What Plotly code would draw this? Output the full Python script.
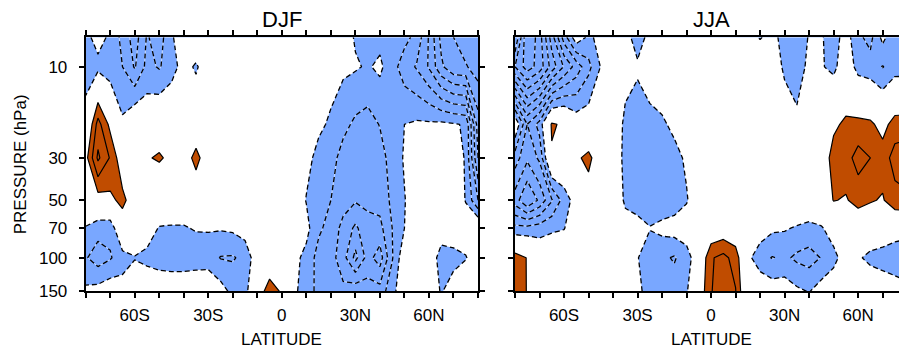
import numpy as np
import plotly.graph_objects as go

lats = list(range(-80, 81, 5))
levels = [7, 10, 20, 30, 50, 70, 100, 150]

# one row per latitude (-80 ... 80), values at 7,10,20,30,50,70,100,150 hPa
djf_values = [
    [-1.3, -1.5, -0.5, 0.6, 0.4, -1.1, -1.9, -0.8],    # -80
    [-0.6, -1.3, 2.4, 3.2, 0.5, -1.6, -2.5, -0.6],     # -75
    [-1.2, -1.6, 0.7, 1.9, 0.75, -1.7, -2.1, -0.3],    # -70
    [-2.3, -2.0, -0.8, 0.2, 1.3, 0.3, -1.4, -0.6],     # -65
    [-3.5, -3.1, 0.1, -0.2, 0.3, -0.2, -1.05, -0.3],   # -60
    [-1.9, -1.7, -0.2, 0.9, 0.0, -0.6, -1.2, -0.4],    # -55
    [-2.5, -2.1, 0.2, 1.15, -0.3, -1.05, -1.6, 0.0],   # -50
    [-1.1, -1.4, 0.1, 0.7, -0.2, -1.1, -1.7, 0.0],     # -45
    [-0.5, -0.6, 0.0, 0.3, -0.2, -1.1, -1.7, 0.0],     # -40
    [-0.1, -1.15, 0.0, 1.4, 0.0, -0.9, -1.7, 0.2],     # -35
    [-0.2, -0.3, 0.0, 0.2, -0.1, -0.9, -1.6, 0.1],     # -30
    [0.0, 0.0, 0.0, 0.0, -0.2, -0.9, -2.05, -0.55],    # -25
    [0.0, 0.0, 0.0, 0.0, -0.3, -0.8, -2.1, -1.3],      # -20
    [0.0, 0.0, 0.0, 0.0, -0.4, -0.5, -1.7, -1.4],      # -15
    [0.0, 0.0, 0.0, 0.0, 0.0, 0.0, -0.3, 0.5],         # -10
    [0.0, 0.0, 0.0, 0.0, 0.0, 0.0, 0.3, 1.4],          # -5
    [0.0, 0.0, 0.0, 0.0, 0.0, 0.0, 0.2, 0.9],          # 0
    [0.0, 0.0, 0.0, 0.0, -0.3, -0.5, -0.7, -0.8],      # 5
    [0.0, 0.0, -0.3, -0.7, -1.05, -0.7, -1.3, -1.5],   # 10
    [0.0, -0.3, -0.8, -1.3, -1.5, -1.8, -2.4, -2.3],   # 15
    [-0.2, -0.6, -1.15, -1.6, -2.0, -2.4, -2.6, -2.5], # 20
    [-0.5, -0.8, -1.7, -2.4, -2.6, -3.3, -3.6, -2.75], # 25
    [-1.1, -0.9, -2.2, -2.6, -2.9, -4.2, -5.3, -2.3],  # 30
    [-1.3, -1.1, -2.4, -2.7, -2.8, -3.3, -3.6, -2.6],  # 35
    [-1.3, -0.8, -1.95, -2.4, -2.6, -3.3, -4.5, -2.6], # 40
    [-1.4, -1.6, -1.4, -1.6, -1.8, -2.0, -2.1, -1.3],  # 45
    [-1.7, -2.5, -1.0, -0.9, -1.05, -1.0, -0.2, -0.3], # 50
    [-2.3, -3.1, -0.85, -0.4, -0.4, -0.3, 0.0, 0.0],   # 55
    [-4.1, -4.1, -0.85, -0.3, -0.3, -0.2, -0.5, -0.6], # 60
    [-6.3, -5.8, -0.8, -0.3, -0.3, -0.6, -1.3, -1.05], # 65
    [-7.0, -6.8, -0.9, -0.4, -0.3, -0.6, -1.2, -0.7],  # 70
    [-7.6, -6.9, -1.1, -1.1, -1.05, -0.5, -1.05, -0.3],# 75
    [-8.0, -7.5, -5.5, -5.0, -3.0, 0.3, -0.5, -0.3],   # 80
]

jja_values = [
    [-6.0, -8.0, 0.0, -2.5, -4.5, -1.7, 1.5, 1.6],     # -80
    [-10.0, -9.5, -3.0, -3.8, -6.0, -1.7, 0.95, 0.95], # -75
    [-8.5, -8.6, -1.6, -2.8, -4.8, -1.5, 0.0, 0.0],    # -70
    [-5.5, -6.6, 1.15, 0.85, -3.1, -1.2, 0.0, 0.0],    # -65
    [-2.5, -4.9, 0.8, 0.3, -1.56, -1.05, 0.0, 0.0],    # -60
    [-0.3, -3.6, -0.3, 0.8, -0.5, -0.3, 0.0, 0.0],     # -55
    [-1.2, -2.3, -0.3, 1.3, 0.4, 0.0, 0.0, 0.0],       # -50
    [-0.7, -0.95, 0.0, 0.2, 0.0, 0.0, 0.0, 0.0],       # -45
    [-0.2, -0.3, 0.0, 0.0, 0.0, 0.0, 0.0, 0.0],        # -40
    [-0.5, -0.5, -1.3, -1.4, -1.2, -0.5, -0.3, 0.0],   # -35
    [-1.6, -0.8, -1.7, -1.8, -1.6, -0.5, -0.95, -0.7], # -30
    [-0.6, -0.3, -1.4, -1.8, -1.7, -0.95, -1.6, -1.5], # -25
    [0.0, 0.0, -1.2, -1.6, -1.7, -0.7, -1.8, -1.5],    # -20
    [0.0, 0.0, -0.7, -1.4, -1.6, -0.5, -2.1, -1.5],    # -15
    [0.0, 0.0, 0.0, -0.8, -1.1, -0.3, -1.5, -1.1],     # -10
    [0.0, 0.0, 0.0, 0.0, -0.2, 0.0, -0.2, 0.2],        # -5
    [0.0, 0.0, 0.0, 0.0, 0.0, 0.0, 1.9, 1.95],         # 0
    [0.0, 0.0, 0.0, 0.0, 0.0, 0.2, 2.3, 2.5],          # 5
    [0.0, 0.0, 0.0, 0.0, 0.0, 0.0, 1.6, 2.05],         # 10
    [-0.5, 0.0, 0.0, 0.0, 0.0, 0.0, -0.7, -0.5],       # 15
    [-1.1, 0.2, 0.0, 0.0, 0.0, -0.3, -1.7, 0.0],       # 20
    [-0.5, 0.0, 0.0, 0.0, 0.0, -0.8, -2.05, -0.38],    # 25
    [-1.6, -1.3, 0.0, 0.0, 0.0, -0.9, -1.8, -0.4],     # 30
    [-1.8, -1.6, -0.7, 0.0, 0.0, -1.1, -2.2, -0.8],    # 35
    [-0.9, -0.7, 0.0, 0.0, 0.0, -1.3, -2.4, -1.05],    # 40
    [-0.9, -0.9, 0.0, 0.3, 0.1, -1.1, -1.95, -0.5],    # 45
    [-1.5, -1.3, 0.8, 1.4, 1.05, -0.5, -1.3, -0.3],    # 50
    [-0.5, -0.2, 1.2, 1.6, 0.9, 0.0, -0.5, 0.0],       # 55
    [-1.8, -1.4, 1.3, 2.4, 1.4, 0.0, -0.85, 0.0],      # 60
    [-2.3, -1.6, 1.2, 2.0, 1.1, 0.0, -1.3, 0.0],       # 65
    [-0.7, -2.05, 0.6, 1.5, 0.9, -0.1, -1.5, -0.2],    # 70
    [-1.8, -1.5, 1.45, 2.4, 1.65, -0.3, -1.8, -0.3],   # 75
    [-2.0, -1.5, 1.5, 2.6, 1.8, -0.3, -2.2, -0.5],     # 80
]

x_tickvals = list(range(-80, 81, 10))
x_ticktext = ["60S" if v == -60 else "30S" if v == -30 else "0" if v == 0
              else "30N" if v == 30 else "60N" if v == 60 else "" for v in x_tickvals]
y_tickvals = [10, 30, 50, 70, 100, 150]
y_ticktext = ["10", "30", "50", "70", "100", "150"]

BLUE = "#79a7ff"
BROWN = "#c04c00"
FONT = "Liberation Sans, Arial, sans-serif"

fig = go.Figure()

def add_panel(vals, xa, ya):
    z = np.array(vals).T
    common = dict(x=lats, y=levels, z=z, xaxis=xa, yaxis=ya, showscale=False,
                  hoverinfo="skip", autocontour=False)
    fig.add_trace(go.Contour(**common,
        contours=dict(start=-1, end=1, size=2, coloring="fill", showlines=False),
        colorscale=[[0, BLUE], [0.5, "white"], [1, BROWN]],
        line=dict(width=0, smoothing=0)))
    fig.add_trace(go.Contour(**common,
        contours=dict(start=-12, end=-2, size=1, coloring="none"),
        line=dict(color="rgba(255,255,255,0.75)", width=0.8, smoothing=0)))
    fig.add_trace(go.Contour(**common,
        contours=dict(start=-12, end=-1, size=1, coloring="none"),
        line=dict(color="black", width=1.3, dash="5px,3px", smoothing=0)))
    fig.add_trace(go.Contour(**common,
        contours=dict(start=1, end=6, size=1, coloring="none"),
        line=dict(color="black", width=1.2, smoothing=0)))

add_panel(djf_values, "x", "y")
add_panel(jja_values, "x2", "y2")

W, H = 899, 358
top_px, bot_px = 38.3, 299.7
ydom = [(H - bot_px) / H, (H - top_px) / H]

xcommon = dict(tickmode="array", tickvals=x_tickvals, ticktext=x_ticktext,
               ticks="outside", ticklen=5, tickwidth=1.5, tickcolor="black",
               showline=True, linewidth=2, linecolor="black", mirror="ticks",
               showgrid=False, zeroline=False, ticklabelstandoff=2,
               tickfont=dict(family=FONT, size=17, color="black"))
ycommon = dict(type="log", range=[np.log10(150), np.log10(7)],
               tickmode="array", tickvals=y_tickvals, ticktext=y_ticktext,
               ticks="outside", ticklen=5, tickwidth=1.5, tickcolor="black",
               showline=True, linewidth=2, linecolor="black",
               showgrid=False, zeroline=False, ticklabelstandoff=8,
               tickfont=dict(family=FONT, size=17, color="black"))

fig.update_layout(
    width=W, height=H, margin=dict(l=0, r=0, t=0, b=0),
    paper_bgcolor="white", plot_bgcolor="white", showlegend=False,
    xaxis=dict(**xcommon, domain=[85.7 / W, 478 / W], range=[-80, 80], anchor="y"),
    yaxis=dict(**ycommon, domain=ydom, anchor="x", mirror="ticks"),
    xaxis2=dict(**xcommon, domain=[515 / W, 1.0], range=[-80, (899 - 711) / 2.452], anchor="y2"),
    yaxis2=dict(**ycommon, domain=ydom, anchor="x2", mirror=False, showticklabels=False),
)

ann = [
    dict(text="DJF", x=281.5 / W, y=(H - 20) / H, size=22),
    dict(text="JJA", x=711.5 / W, y=(H - 20) / H, size=22),
    dict(text="LATITUDE", x=281.5 / W, y=(H - 349) / H, size=17),
    dict(text="LATITUDE", x=711.5 / W, y=(H - 349) / H, size=17),
]
for a in ann:
    fig.add_annotation(text=a["text"], x=a["x"], y=a["y"], xref="paper", yref="paper",
                       showarrow=False, xanchor="center", yanchor="middle",
                       font=dict(family=FONT, size=a["size"], color="black"))
fig.add_annotation(text="PRESSURE (hPa)", x=20 / W, y=(H - 169) / H, xref="paper", yref="paper",
                   showarrow=False, textangle=-90, xanchor="center", yanchor="middle",
                   font=dict(family=FONT, size=17, color="black"))

fig.write_html("out.html")
